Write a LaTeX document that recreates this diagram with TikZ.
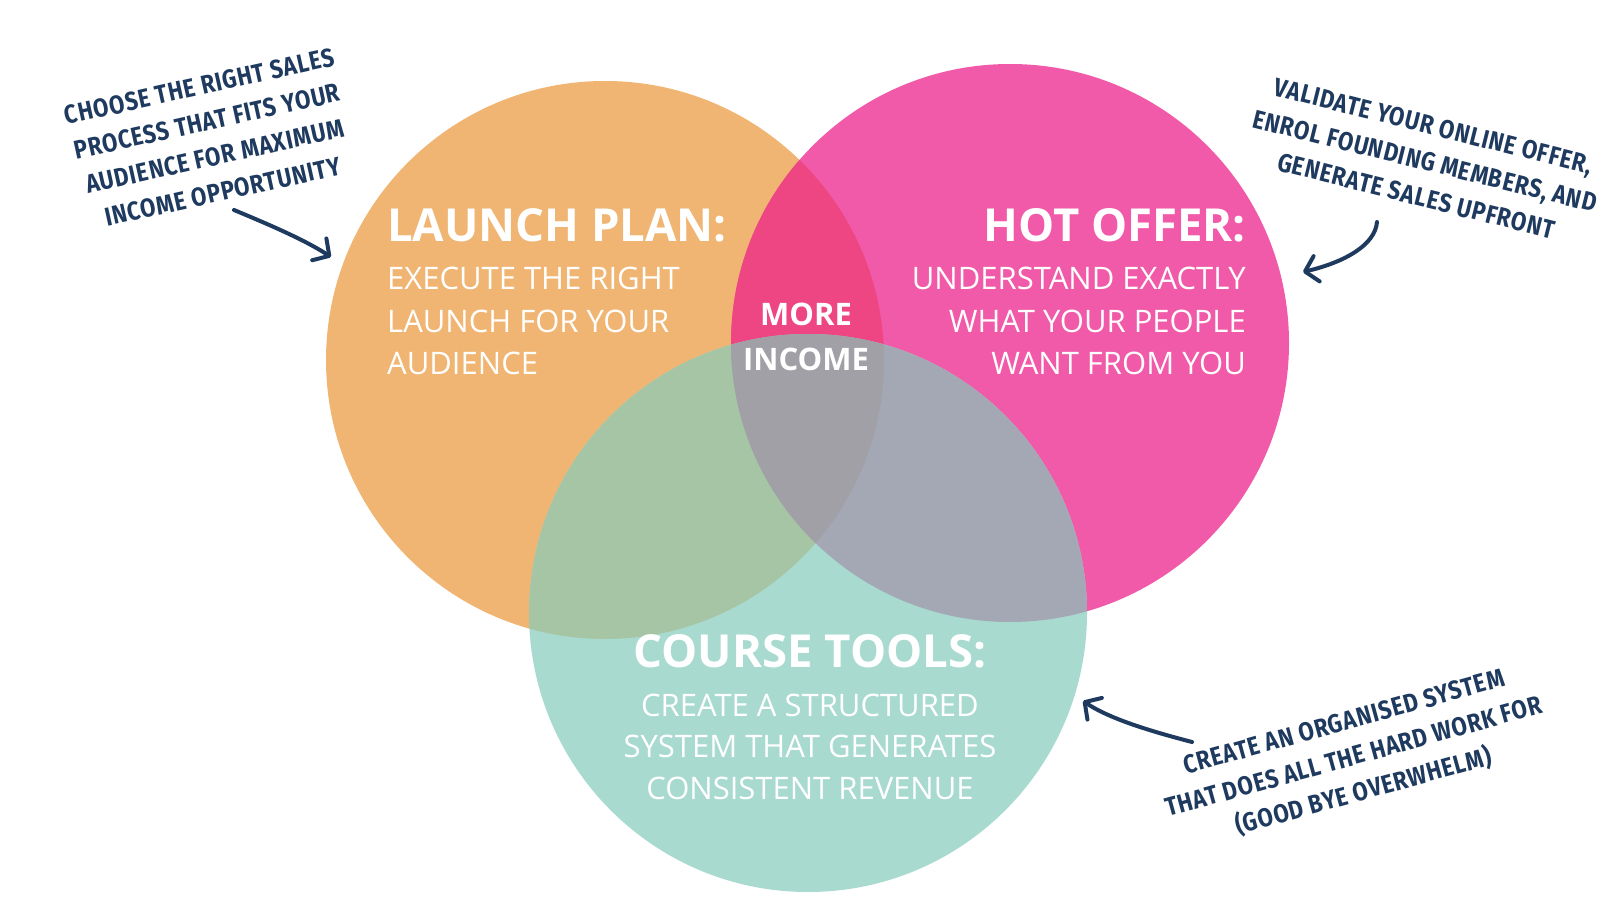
\documentclass[tikz,border=0pt]{standalone}
\usepackage{fontspec}
\setmainfont{Open Sans}
\newfontfamily\hand{Fira Sans}[FakeStretch=0.86, LetterSpace=3]
\usetikzlibrary{arrows.meta}
\definecolor{corange}{HTML}{F0B572}
\definecolor{cpink}{HTML}{F15AA8}
\definecolor{cteal}{HTML}{A8DAD0}
\definecolor{cop}{HTML}{EE4682}
\definecolor{cot}{HTML}{A5C5A4}
\definecolor{cpt}{HTML}{A3A8B4}
\definecolor{call}{HTML}{A0A0A6}
\definecolor{navy}{HTML}{1F3A5F}
\tikzset{
  title/.style={text=white, inner sep=0pt, font=\fontsize{45.5}{50}\selectfont\bfseries},
  body/.style={text=white, inner sep=0pt, font=\fontsize{31}{36}\selectfont},
  mid/.style={text=white, inner sep=0pt, font=\fontsize{31}{36}\selectfont\bfseries},
  note/.style={text=navy, align=center, inner sep=0pt, font=\hand\bfseries\fontsize{26}{36}\selectfont},
  pointer/.style={draw=navy, line width=4pt, line cap=round, -{Straight Barb[length=12pt,width=26pt,line width=4pt,round]}}
}
\begin{document}
\begin{tikzpicture}[x=1pt,y=-1pt]
\useasboundingbox (0,0) rectangle (1622,909);
\def\RR{279}
\coordinate (co) at (605,360);
\coordinate (cp) at (1010,343);
\coordinate (ct) at (808,613);
% base circles
\fill[corange] (co) circle (\RR);
\fill[cpink] (cp) circle (\RR);
\fill[cteal] (ct) circle (\RR);
% pairwise overlaps
\begin{scope}
  \clip (co) circle (\RR);
  \fill[cop] (cp) circle (\RR);
  \fill[cot] (ct) circle (\RR);
\end{scope}
\begin{scope}
  \clip (cp) circle (\RR);
  \fill[cpt] (ct) circle (\RR);
\end{scope}
\begin{scope}
  \clip (co) circle (\RR);
  \clip (cp) circle (\RR);
  \fill[call] (ct) circle (\RR);
\end{scope}
% Launch plan
\node[title, anchor=base west] (lpt) at (387,242) {LAUNCH PLAN:};
\node[body, anchor=base west] (lp1) at (387,290) {EXECUTE THE RIGHT};
\node[body, anchor=base west] (lp2) at (387,332) {LAUNCH FOR YOUR};
\node[body, anchor=base west] (lp3) at (387,374) {AUDIENCE};
% Hot offer
\node[title, anchor=base east] (hot) at (1246,242) {HOT OFFER:};
\node[body, anchor=base east] (ho1) at (1246,290) {UNDERSTAND EXACTLY};
\node[body, anchor=base east] (ho2) at (1246,332) {WHAT YOUR PEOPLE};
\node[body, anchor=base east] (ho3) at (1246,374) {WANT FROM YOU};
% Course tools
\node[title, anchor=base] (ctt) at (810,667) {COURSE TOOLS:};
\node[body, anchor=base] (ct1) at (810,716) {CREATE A STRUCTURED};
\node[body, anchor=base] (ct2) at (810,757) {SYSTEM THAT GENERATES};
\node[body, anchor=base] (ct3) at (810,799) {CONSISTENT REVENUE};
% center
\node[mid, anchor=base] (more) at (806,325) {MORE};
\node[mid, anchor=base] (inc) at (806,370) {INCOME};
% annotations
\node[note, rotate=12.5] (n1) at (211,139) {CHOOSE THE RIGHT SALES\\PROCESS THAT FITS YOUR\\AUDIENCE FOR MAXIMUM\\INCOME OPPORTUNITY};
\node[note, rotate=-14] (n2) at (1425,161) {VALIDATE YOUR ONLINE OFFER,\\ENROL FOUNDING MEMBERS, AND\\GENERATE SALES UPFRONT};
\node[note, rotate=15.5] (n3) at (1354,758) {CREATE AN ORGANISED SYSTEM\\THAT DOES ALL THE HARD WORK FOR\\(GOOD BYE OVERWHELM)};
% arrows
\coordinate (a1s) at (234,210);
\coordinate (a1e) at (331,257);
\coordinate (a2s) at (1377,222);
\coordinate (a2e) at (1303,272);
\coordinate (a3s) at (1192,742);
\coordinate (a3e) at (1083,701);
\draw[pointer] (a1s) .. controls (270,225) and (305,240) .. (a1e);
\draw[pointer] (a2s) .. controls (1375,245) and (1345,262) .. (a2e);
\draw[pointer] (a3s) .. controls (1150,731) and (1110,719) .. (a3e);
\end{tikzpicture}
\end{document}
